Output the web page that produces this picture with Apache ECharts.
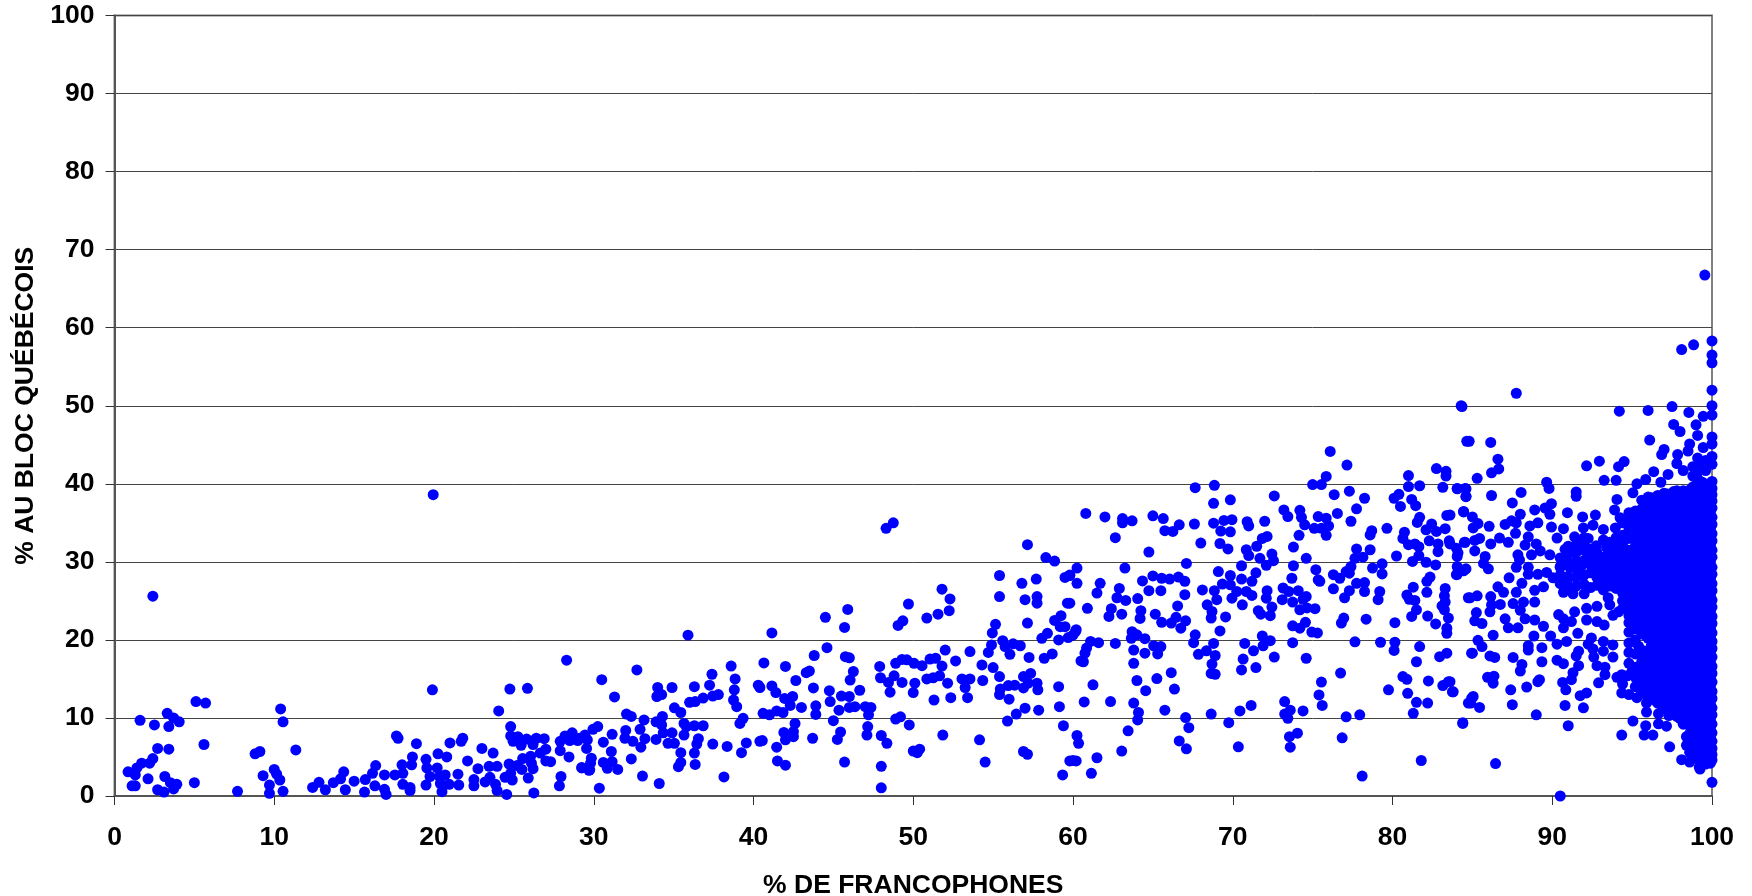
<!DOCTYPE html>
<html><head><meta charset="utf-8">
<style>html,body{margin:0;padding:0;background:#fff}#c{width:1752px;height:896px}</style>
<script src="https://cdn.jsdelivr.net/npm/echarts@6/dist/echarts.min.js"></script>
</head><body><div id="c"></div>
<script>
const xTitle = '% DE FRANCOPHONES';
const yTitle = '% AU BLOC QUÉBÉCOIS';
const pointsLow = [[2.4,25.6],[1.6,9.7],[2.5,9.1],[3.3,10.6],[3.7,10],[4.05,9.5],[3.4,8.9],[5.1,12.1],[5.7,11.9],[5.6,6.6],[2.7,6.1],[3.4,6],[2.4,4.8],[2.2,4.2],[1.7,4.2],[1.4,3.6],[0.85,3.1],[1.3,2.7],[2.1,2.2],[1.1,1.3],[1.3,1.3],[3.15,2.5],[3.5,1.7],[3.9,1.5],[3.7,0.9],[2.7,0.8],[3.1,0.5],[5,1.7],[7.7,0.6],[8.8,5.4],[9.1,5.7],[9.3,2.6],[10,3.4],[10.15,2.8],[10.35,2.05],[9.7,1.4],[9.7,0.35],[10.55,0.6],[10.4,11.15],[10.55,9.5],[11.35,5.9],[12.4,1.1],[12.8,1.75],[13.2,0.8],[13.7,1.7],[14.15,2.2],[14.35,3.1],[14.45,0.8],[15,1.9],[15.65,0.5],[15.7,2.1],[16.15,2.9],[16.35,3.9],[16.3,1.3],[16.9,2.7],[16.9,0.85],[17,0.2],[17.55,2.7],[18.05,2.9],[18,4],[18.05,1.5],[18.5,1.1],[18.5,0.7],[18.6,4],[18.65,5],[17.65,7.7],[17.75,7.4],[18.9,6.7],[19.5,4.7],[19.55,3.6],[19.5,1.4],[19.9,13.6],[19.95,38.6],[20.2,3.6],[19.75,2.5],[20.25,5.4],[20.8,5],[20.35,2.5],[20.7,2.7],[20.4,1.6],[20.95,1.5],[20.5,0.55],[21,6.8],[21.7,7],[21.8,7.4],[21.5,2.8],[21.55,1.4],[22.1,4.5],[22.5,2.1],[22.5,1.3],[22.75,3.5],[23,6.1],[23.7,5.5],[23.45,3.8],[23.95,3.8],[23.2,1.8],[23.5,2.4],[23.85,1.5],[23.95,0.7],[24.55,0.2],[24.05,10.9],[24.75,13.7],[25.85,13.8],[24.8,8.9],[24.8,7.7],[25.25,7.6],[24.95,7],[25.45,6.5],[25.8,7.3],[26.4,7.4],[26.2,6.6],[26.9,7.35],[27,6],[26.65,5.5],[25.55,4.8],[26.05,5.1],[26.1,4.2],[26.2,3.5],[24.7,4.1],[25.2,3.9],[25.5,3.4],[24.8,2.9],[24.45,2.4],[24.9,2.05],[25.9,2.3],[26.25,0.4],[27,4.5],[27.3,4.4],[28.3,17.4],[27.9,7],[28.2,7.7],[28.65,8.1],[27.9,5.8],[28.45,5],[27.95,2.5],[27.85,1.3],[28.5,7.1],[29,7.1],[29.45,7.8],[29.25,3.6],[29.55,6.1],[29.7,3.3],[29.1,7.4],[29.45,7.6],[29.6,7.2],[29.95,8.55],[29.85,4.85],[29.8,4.2],[29.75,3.35],[29.25,3.65]];
const pointsMid = [[30.25,8.9],[31.15,7.9],[30.6,6.9],[32,8.4],[32.9,8.55],[33.2,7.35],[31.95,7.4],[32.45,7],[32.95,6.25],[33.9,7.25],[31.1,5.7],[30.6,4.3],[31.15,4.4],[30.85,3.55],[31.5,3.4],[32.35,4.75],[33.05,2.55],[34.1,1.6],[30.35,1],[30.5,14.9],[31.3,12.7],[32.7,16.15],[32.05,10.5],[32.35,10.2],[33.15,9.75],[34.3,10.2],[33.9,9.5],[34.25,9.1],[34.35,8.1],[34.9,8.1],[34,13.9],[33.95,12.75],[34.25,13],[34.9,13.9],[35.05,11.3],[35.45,10.7],[35.65,9.3],[35.9,20.6],[36.3,14],[36,12],[36.35,12.1],[36.85,12.55],[37.25,14.2],[37.4,15.6],[37.45,12.8],[37.8,13],[36.3,9],[36.85,9],[35.8,8.9],[35.65,7.8],[36.55,7.35],[36.45,6.65],[34.65,6.75],[35.05,6.75],[35.45,5.55],[36.3,5.5],[35.45,4.3],[35.3,3.75],[36.35,4.05],[37.45,6.65],[38.35,6.35],[38.15,2.45],[38.6,16.65],[38.85,15],[38.8,13.6],[38.75,12.3],[38.95,11.45],[39.35,9.95],[39.15,9.3],[39.55,6.8],[39.25,5.55],[40.3,14.2],[40.4,13.9],[40.65,17.05],[41.15,20.9],[41.15,14.1],[41.4,13.25],[41.95,12.5],[42.45,12.75],[42.3,11.6],[40.6,10.6],[41,10.4],[41.45,10.9],[41.85,10.7],[42,16.6],[42.65,14.8],[43.3,15.8],[43.5,16],[43.8,18],[43.75,13.85],[43,11.35],[43.9,11.55],[43.9,10.45],[42.6,9.3],[41.9,8.15],[42.5,8.25],[42.5,7.6],[42,7.2],[40.4,7],[40.55,7.1],[41.45,6.25],[41.5,4.5],[42,3.95],[43.7,7.4],[44.5,22.9],[44.6,19],[44.75,13.5],[44.8,12.1],[45,9.65],[45.35,11],[45.45,8.2],[45.25,7.25],[45.7,4.35],[45.7,21.6],[45.9,23.9],[45.75,17.85],[46,17.7],[46.25,15.95],[46.05,14.85],[45.5,12.8],[46,12.75],[46,11.35],[46.35,11.45],[46.65,13.55],[47,11.45],[47.35,11.35],[47.2,10.4],[47.15,8.9],[47.1,7.8],[48,7.75],[48.35,6.75],[48,3.8],[48,1.05],[48.3,34.3],[48.75,35],[47.9,16.6],[47.95,15.15],[48.45,14.55],[48.8,15.4],[48.55,13.3],[49.3,14.55],[48.9,17],[49.3,17.5],[49.6,17.45],[50.05,17],[50.55,16.7],[51.05,17.55],[51.4,17.65],[51.8,16.65],[52,18.7],[52.65,17.3],[53.55,18.5],[54.3,16.8],[54.35,14.8],[53.05,15],[53.55,15],[53.25,13.9],[53.4,12.6],[52.35,12.6],[52.15,14.45],[50.85,15],[51.25,15.15],[51.65,15.4],[50.1,14.45],[50,13.25],[51.3,12.3],[48.9,9.85],[49.2,10.15],[49.75,9.1],[51.85,7.8],[54.15,7.2],[54.5,4.35],[50,5.75],[50.4,6],[50.25,5.55],[49.05,21.85],[49.35,22.45],[49.7,24.6],[50.85,22.8],[51.55,23.3],[52.25,23.75],[52.3,25.25],[51.8,26.5],[55.4,28.25],[55.4,25.55],[55.15,22],[54.95,20.9],[54.9,19.35],[55.6,19.9],[56.25,19.5],[56.7,19.25],[55.75,19.15],[56.05,18.15],[54.7,18.4],[57.25,17.75],[55,16.45],[55.4,15.3],[55.45,13.7],[55.4,13],[56,12.4],[55.95,14.15],[56.35,14.2],[56.9,13.85],[56.9,15.3],[57.35,15.7],[57.2,14.45],[57.75,14.45],[57.8,13.6],[57,11.25],[56.45,10.5],[55.9,9.6],[57.85,11],[56.9,5.7],[57.15,5.35],[56.8,27.25],[57.7,27.8],[57,25.15],[57.75,25.55],[57.75,24.7],[57.15,32.2],[57.15,22.15],[58.3,30.55],[58.85,30.1],[59.5,28],[59.8,28.25],[59.65,24.7],[59.25,23.1],[58.85,22.5],[59.2,21.7],[59.5,21.7],[58.05,20.2],[58.4,20.85],[59.1,20],[59.7,20.3],[58.2,17.65],[58.7,18.2],[59.1,14],[59.15,11.45],[59.4,9],[59.8,4.5],[59.35,2.7],[59.8,28.3],[59.8,24.7]];
const pointsHigh = [[60.25,29.2],[60.25,27.25],[60.5,17.3],[60.25,7.75],[60.35,6.75],[60.2,4.5],[60.15,21.05],[60.8,36.2],[62,35.75],[63.1,35.55],[63.1,35],[63.7,35.25],[62.65,33.1],[65,35.9],[65.65,35.55],[65.75,34],[66.25,33.9],[66.65,34.75],[67.6,34.85],[67.65,39.5],[68.85,39.8],[68.8,37.5],[69.85,37.95],[68.8,34.95],[69.45,35.3],[69.95,35.4],[69.25,33.95],[69.85,33.85],[68,32.4],[69.2,32.35],[69.7,31.65],[70.9,35.15],[71,34.6],[72,35.2],[72.6,38.45],[73.2,36.65],[73.45,35.8],[74.2,36.6],[74.3,35.7],[74.5,34.75],[75.35,35.8],[75.85,35.6],[75.1,34.3],[75.55,34.3],[76,34.6],[75.85,33.4],[74.15,33.4],[72.15,33.25],[71.85,33],[71.5,32],[70.85,31.55],[71,30.8],[73.8,31.9],[71.7,30.45],[72.45,31],[72.55,30.15],[72.1,29.55],[73.8,29.5],[70.55,29.5],[64.75,31.25],[67.1,29.8],[63.25,29.2],[61.7,27.25],[61.5,26],[62.9,26.6],[62.75,25.4],[63.3,25.05],[64.05,25.3],[64.35,27.55],[65,28.2],[65.55,27.9],[66.05,27.8],[66.6,28.05],[67,27.5],[64.75,26.3],[65.5,26.3],[67,25.8],[68.1,26.4],[68.85,26.3],[69.1,28.75],[69.85,28.25],[70.55,27.8],[71.45,28.6],[71.2,27.5],[69.35,27.15],[69.85,27.05],[70.25,26.2],[70.85,26.2],[71.2,25.7],[69.95,25.35],[69,25.15],[68.4,24.5],[70.6,24.5],[72.15,26.3],[72.1,25.35],[73.15,26.65],[73.5,26.2],[73.7,27.9],[73.1,25.15],[73.75,24.85],[74.1,26.3],[74.6,25.55],[74.4,25.2],[71.6,23.75],[71.75,23.3],[72.45,24.2],[72.35,23.1],[74.2,23.85],[74.65,24.1],[75.15,24],[68.7,23.65],[68.65,22.8],[69.55,22.95],[66.55,24.35],[65.15,23.3],[65.55,22.25],[66.15,22.15],[66.45,22.9],[67.05,22.45],[66.75,21.5],[64.25,23.75],[64.2,22.75],[63.05,23.3],[62.4,24],[62.25,23],[60.9,24.05],[60.2,21.3],[60,20.6],[63.7,21.05],[64,20.65],[63.65,20.2],[64.5,20.15],[61.1,19.8],[61.6,19.65],[62.65,19.55],[60.85,18.95],[60.75,18.3],[60.65,17.2],[63.8,18.7],[64.5,18.3],[65.05,19.25],[65.5,19.15],[65.3,18.2],[63.8,17],[66.15,15.8],[65.25,15.05],[64,14.8],[64.55,13.5],[66.35,13.7],[61.25,14.25],[60.7,12.05],[62.35,12.1],[63.8,11.9],[64.1,10.7],[64.05,9.75],[65.75,11],[67.05,10.05],[67.25,8.75],[68.65,10.5],[69.75,9.4],[70.45,10.9],[71.15,11.6],[63.45,8.35],[66.65,7.05],[67.1,6.05],[70.35,6.3],[63.05,5.75],[61.5,4.9],[60,4.55],[61.15,2.9],[67.65,20.65],[67.55,19.65],[68.8,19.55],[68.35,18.6],[67.85,18.15],[68.9,18],[68.7,16.9],[68.65,15.7],[68.9,15.6],[69.2,21.15],[70.75,19.55],[71.3,18.6],[70.65,17.55],[70.55,16.15],[71.45,16.45],[71.85,20.5],[72.35,19.9],[71.9,19.25],[72.6,17.8],[73.75,19.65],[73.75,21.8],[74.2,21.5],[74.55,22.25],[74.95,21],[75.3,20.9],[74.6,17.65],[75.55,14.6],[75.4,12.95],[75.6,11.6],[76.75,15.75],[73.25,12.1],[73.6,11],[73.25,10.5],[73.45,9.95],[74.4,10.9],[77.1,10.15],[77.95,10.4],[74.05,8.05],[73.55,7.6],[73.6,6.25],[76.85,7.45],[78.1,2.55],[81.8,4.55],[84.4,9.4],[81.3,10.6],[81.5,12],[82.2,11.9],[80.95,13.15],[79.75,13.6],[80.65,15.3],[80.9,14.95],[82.25,14.75],[83.15,14.15],[83.5,14.65],[83.75,13.35],[81.5,17.2],[81.7,19.15],[82.95,17.85],[83.4,18.3],[80.15,19.7],[80.1,18.65],[79.25,19.7],[77.65,19.75],[80.15,22.2],[78.35,22.65],[76.95,22.8],[76.8,22.15],[79.1,25.15],[79.2,26.2],[78.25,26.2],[78.25,27.35],[77.75,27.25],[77.3,26.3],[77,25.4],[76.3,26.55],[75.35,27.7],[75.45,27.5],[75.2,29],[76.3,28.35],[76.7,27.9],[77.1,28.75],[77.4,29.4],[77.3,28.55],[77.65,30.45],[78.15,30.6],[77.75,31.65],[78.6,31.55],[78.75,29.2],[79.35,29.75],[79.35,28.45],[74.6,30.45],[78.6,33.45],[78.7,34],[79.65,34.3],[77.4,35.2],[77.75,36.8],[76.55,36.2],[78.25,38.15],[77.3,39.05],[76.35,38.6],[75.85,40.95],[75,39.9],[75.55,39.9],[76.1,44.15],[77.15,42.4],[84.3,50],[84.65,45.45],[82.75,41.95],[83.35,41.6],[83.35,41],[81,41.05],[81,39.65],[81.7,39.75],[83.15,39.55],[84.05,39.35],[84.6,39.35],[80.4,38.65],[80.1,38.15],[80.5,37.1],[81.2,38],[81.45,37.2],[84.6,38.4],[83.4,35.95],[84.45,36.45],[81.7,35.7],[81.55,35.05],[82.45,34.85],[82.1,34.1],[82.75,33.9],[83.3,34.25],[80.75,33.8],[80.65,33],[81,32.2],[81.4,32.3],[81.65,31.95],[82.3,32.7],[82.85,32.3],[83.55,32.7],[84.5,32.5],[84,31.75],[82.85,31.3],[81.65,30.8],[82.1,29.95],[82.7,29.6],[81.25,30.05],[80.25,30.75],[84.05,30.7],[84.05,29.4],[84.6,29.1],[84,28.35],[82.35,28.05],[82.15,27.5],[81.3,26.75],[80.9,25.75],[81.05,25.2],[81.4,25.05],[82.15,26.1],[83.3,26.6],[83.25,25.65],[83.3,24.85],[83.1,24.35],[83.25,23.85],[83.5,22.8],[81.5,23.85],[81.2,23],[82.2,23.05],[82.7,22.05],[83.4,21.5],[83.4,20.85],[84.75,25.4],[84.95,18.3],[84.95,12.5],[84.75,11.9]];
const pointsEdge = [[99.55,66.75],[100,58.3],[98.85,57.8],[98.1,57.2],[100,56.5],[100,55.5],[100,52],[87.75,51.6],[84.35,49.9],[94.2,49.3],[96,49.4],[97.5,49.9],[98.55,49.15],[100,50],[100,48.8],[99.45,48.65],[99,47.55],[97.6,47.6],[98,46.7],[96.1,45.6],[99.1,46.2],[100,46],[100,45.1],[99.45,44.65],[98.6,45.1],[98.5,44.2],[97,44.4],[96.85,43.75],[97.85,43.75],[99.1,43.3],[100,43.5],[100,42.5],[84.8,45.45],[86.15,45.3],[86.6,43.15],[86.65,41.9],[86.2,41.4],[85.3,40.7],[92.15,42.3],[92.95,42.9],[94.15,42.2],[94.5,42.85],[96.35,41.55],[97.25,41.2],[96.8,40.2],[97.8,42.6],[98.2,41.7],[99.05,41.2],[100,40.3],[100,39.4],[93.25,40.45],[94,40.45],[95.3,40],[95.85,40.55],[89.65,40.2],[89.8,39.4],[91.5,38.95],[91.5,38.4],[88.05,38.9],[87.5,37.55],[86.2,38.5],[84.05,39.4],[84.55,39.4],[84.6,38.35],[94.05,38],[95.05,38.85],[84.45,36.4],[85,35.75],[85.35,34.9],[85.05,34.35],[86.05,34.55],[83.6,36],[87.05,34.8],[87.45,35.25],[88,36.1],[87.75,35],[87.7,33.65],[88.9,36.65],[89.95,37.45],[89.55,36.9],[89.85,36.1],[90.95,36.3],[91.9,35.75],[92.7,36],[93.9,36.65],[94.25,35.65],[88.6,34.6],[89.1,35],[89.95,34.45],[90.7,34.25],[91.95,34.35],[92.55,34.7],[93.2,34.15],[93.95,34.35],[86.7,33.05],[87.25,32.5],[86.15,32.3],[85.45,33],[85.15,32.75],[84.55,32.5],[88.5,33.2],[88.3,32.15],[89,32.3],[90.3,33.05],[88.7,30.9],[89.25,31.4],[89.85,30.9],[87.85,30.9],[87.95,30.25],[90.8,31.6],[91.4,33.2],[91.65,32.5],[92.25,33],[92.75,32.05],[93.4,31.85],[91.5,31.4],[92.35,31.15],[92.75,30.45],[84.1,31.15],[83.6,32.3],[85.8,30.7],[85.15,31.4],[84.45,28.85],[84.05,28.4],[86,29.1],[85.7,29.8],[87.75,29.3],[88.5,29.3],[88.5,28.4],[89.1,28.4],[89.65,28.65],[90.5,29.3],[91.1,29.3],[91.85,29.55],[91.85,28.4],[91,28.15],[90.05,27.95],[89.45,26.8],[88.9,26.35],[88.1,27.25],[87.3,27.95],[86.6,26.8],[86.95,26.1],[87.75,26.1],[84.85,25.4],[85.3,25.65],[86.15,25.55],[86.2,24.5],[86.75,24.55],[87.55,24.65],[88.2,24.85],[88.9,24.85],[88,23.8],[86.1,23.6],[85.25,23.5],[85.15,22.45],[85.6,22.1],[87.05,22.7],[87.25,21.55],[87.85,21.55],[88.3,22.7],[88.9,22.55],[89.45,21.75],[88.85,20.5],[89.9,20.5],[90.7,26.1],[91.3,25.9],[90.4,23.25],[90.7,22.7],[90.7,21.55],[91.2,22.35],[91.4,23.6],[92.15,24.05],[92.8,24.3],[93.5,25.4],[93.6,24.5],[92.15,22.55],[92.8,22.35],[93.25,21.9],[93.8,23.15],[94.15,23.6],[91.6,20.85],[92.45,20.25],[93.2,19.8],[93.8,19.35],[92.25,19.45],[92.55,18.85],[93.2,18.55],[93.8,17.8],[92.6,17.8],[91.65,18.55],[91.5,17.95],[91.65,16.7],[91.3,15.8],[91.2,14.9],[92.8,16.7],[93.3,16.5],[93.3,15.55],[94.05,15.2],[94.35,15.55],[94.4,14.35],[92.9,14.5],[90.65,14.55],[90.85,13.6],[92.15,13.2],[91.75,12.85],[90.8,11.6],[91.95,11.3],[91,9],[94.35,13.2],[94.8,13],[95.3,12.6],[95.9,11.9],[95.9,10.75],[96.65,10.55],[97.3,10.3],[96.65,9.25],[97.15,8.95],[95.85,9],[95.75,7.8],[96.3,7.8],[95.05,9.6],[94.35,7.8],[97.35,6.3],[98.1,4.65],[98.6,4.35],[99.25,3.45],[100,1.75],[90.5,0],[86.45,4.15],[89,10.4],[84.4,9.3],[88.4,13.95],[89.1,14.65],[89.2,14.9],[87.5,11.7],[87.4,13.6],[86.35,15.35],[86.3,14.45],[85.95,15.2],[85.05,12.75],[84.9,11.9],[85.45,11.35],[83.8,13.35],[83.6,14.65],[86.3,20.6],[85.35,19.95],[85.6,19.15],[85,18.3],[86.1,17.95],[86.4,17.75],[87.55,17.75],[88.1,16.85],[88,16],[88.5,19.25],[88.5,18.7],[89.35,19],[89.35,17.2],[90.3,17.4],[90.7,16.95],[90.3,19.45],[90.9,19.8],[95.4,19.2],[95,16],[94.7,15.4],[96.1,18.4],[95.7,18.6]];
const denseColumns = [
[100,[4.6,5.3,6.1,7,8.1,9.2,10.4,11.3,12.5,13.4,14.6,15.7,16.6,17.8,18.9,19.8,20.9,22.1,23,24.2,25.1,26.3,27.2,28.4,29.3,30.6,31.5,32.7,33.6,34.8,35.7,36.9,37.8,38.6]],
[99.9,[4.2,5.7,6.5,7.5,8.6,9.8,10.9,11.9,13,14,15.1,16.2,17.2,18.4,19.3,20.4,21.5,22.6,23.6,24.7,25.7,26.8,27.8,28.9,30,31,32.1,33.1,34.2,35.2,36.3,37.4,38.2,39]],
[99.6,[4.1,5,5.9,6.8,7.7,8.9,9.8,11,11.9,13,14.1,15.2,16.1,17.3,18.3,19.4,20.4,21.5,22.6,23.6,24.7,25.7,26.8,27.8,28.9,30,31.1,32.1,33.2,34.2,35.3,36.4,37.4,38.5,39.3,41.7,43]],
[99.4,[4.4,5.2,6.1,7.1,8.2,9.1,10.2,11.3,12.4,13.5,14.5,15.6,16.7,17.8,18.8,19.9,20.9,22,23.1,24.1,25.2,26.3,27.3,28.4,29.4,30.5,31.6,32.6,33.7,34.7,35.8,36.9,37.9,38.9,40.2]],
[99.2,[3.7,4.6,5.5,6.4,7.5,8.5,9.6,10.6,11.7,12.8,13.8,14.9,15.9,17,18,19.1,20.2,21.2,22.3,23.3,24.4,25.4,26.5,27.6,28.6,29.7,30.7,31.8,32.9,33.9,35,36,37.1,38.1,39,40.4,41.8,42.6]],
[99,[4.9,5.8,6.9,8,9.1,10.2,11.2,12.3,13.3,14.4,15.5,16.5,17.6,18.6,19.7,20.8,21.8,22.9,23.9,25,26,27.1,28.2,29.2,30.3,31.3,32.4,33.5,34.5,35.6,36.6,37.7,38.8,39.8]],
[98.8,[5.2,6.2,7.3,8.6,10.1,11.2,12.2,13.3,14.3,15.4,16.5,17.5,18.6,19.6,20.7,21.8,22.8,23.9,24.9,26,27.1,28.1,29.2,30.2,31.3,32.4,33.4,34.5,35.5,36.6,37.7,38.7,39.6,41,42.2]],
[98.6,[5.6,6.8,8,9,10.3,11.7,12.8,13.8,14.9,15.9,17,18.1,19.1,20.2,21.2,22.3,23.4,24.4,25.5,26.5,27.6,28.7,29.7,30.8,31.8,32.9,34,35,36.1,37.1,38.2,39.2]],
[98.4,[6.5,7.6,9.4,10.7,11.7,12.7,13.8,14.9,15.9,17,18,19.1,20.2,21.2,22.3,23.3,24.4,25.5,26.5,27.6,28.6,29.7,30.8,31.8,32.9,33.9,35,36.1,37.1,38.2,39]],
[98.2,[9.2,10.4,11.5,12.6,13.7,14.8,15.8,16.9,17.9,19,20.1,21.1,22.2,23.2,24.3,25.4,26.4,27.5,28.5,29.6,30.7,31.7,32.8,33.8,34.9,36,37,38.1,39.1]],
[98,[9.9,11,12.2,13.2,14.3,15.4,16.4,17.5,18.5,19.6,20.7,21.7,22.8,23.8,24.9,26,27,28.1,29.1,30.2,31.3,32.3,33.4,34.4,35.5,36.6,37.6,38.7]],
[97.8,[10.2,11.5,12.6,13.7,14.7,15.8,16.9,17.9,19,20,21.1,22.2,23.2,24.3,25.3,26.4,27.5,28.5,29.6,30.6,31.7,32.8,33.8,34.9,35.9,37,38.1,39.1]],
[97.6,[10.5,11.7,12.8,13.8,14.9,15.9,17,18,19.1,20.2,21.2,22.3,23.3,24.4,25.5,26.5,27.6,28.6,29.7,30.8,31.8,32.9,33.9,35,36,37.1,38.2,39]],
[97.4,[11.2,12.3,13.3,14.4,15.4,16.5,17.6,18.6,19.7,20.7,21.8,22.9,23.9,25,26,27.1,28.2,29.2,30.3,31.3,32.4,33.5,34.5,35.6,36.6,37.7,38.7]],
[97.2,[11,12.2,13.3,14.3,15.4,16.5,17.5,18.6,19.6,20.7,21.8,22.8,23.9,24.9,26,27,28.1,29.2,30.2,31.3,32.3,33.4,34.5,35.5,36.6,37.6,38.7]],
[97,[11.3,12.5,13.6,14.6,15.7,16.7,17.8,18.9,19.9,21,22,23.1,24.2,25.2,26.3,27.3,28.4,29.5,30.5,31.6,32.6,33.7,34.8,35.8,36.9,37.9,38.8]],
[96.8,[11.7,12.8,13.8,14.9,16,17,18.1,19.1,20.2,21.3,22.3,23.4,24.4,25.5,26.6,27.6,28.7,29.7,30.8,31.9,32.9,34,35,36.1,37.2,38]],
[96.6,[11.9,13,14.1,15.2,16.2,17.3,18.4,19.4,20.5,21.5,22.6,23.7,24.7,25.8,26.8,27.9,29,30,31.1,32.1,33.2,34.3,35.3,36.4,37.4,38.5]],
[96.4,[12.3,13.4,14.4,15.5,16.5,17.6,18.7,19.7,20.8,21.8,22.9,24,25,26.1,27.1,28.2,29.3,30.3,31.4,32.4,33.5,34.6,35.6,36.7,37.6]],
[96.2,[12.8,13.9,15,16,17.1,18.2,19.2,20.3,21.3,22.4,23.5,24.5,25.6,26.6,27.7,28.8,29.8,30.9,31.9,33,34.1,35.1,36.2,37.2,38.2]],
[96,[13.6,14.9,16.1,17.2,20.2,21.3,22.4,23.5,24.6,25.6,26.7,27.8,28.8,29.9,30.9,32,33,34.1,35.2,36.2,37.2,38.3]],
[95.8,[13.1,14.3,15.4,16.6,17.8,20.6,21.7,22.8,23.8,24.9,26,27,28.1,29.1,30.2,31.3,32.3,33.4,34.4,35.5,36.5,37.5]],
[95.6,[13.2,14.5,15.8,17.2,20.8,21.9,23,24,25.1,26.2,27.2,28.3,29.3,30.4,31.5,32.5,33.6,34.6,35.7,36.8,37.9]],
[95.2,[14,15.2,16.5,18.2,20,21.4,22.5,23.6,24.6,25.7,26.8,27.8,28.9,29.9,31,32,33.1,34.2,35.4,36.5]],
[94.8,[17,18.4,19.6,21,22.2,23.1,24.3,25.2,26.4,27.4,28.4,29.4,30.6,31.5,33,34.2,35.2,36.3]],
[94.4,[24,25,26,27,28.1,29.1,30.1,31.2,32.3,33.4,35]],
[94,[26.6,27.6,28.7,29.7,30.8,32,33.1]],
[93.6,[26.9,28,29,30,31,32.5]],
[93.2,[26.4,27.5,28.6,29.7,30.6,32.8]],
[92.8,[27,28,29.1,30.1,31.2]],
[92.4,[26.7,28.6,29.6,30.7,31.6]],
[92,[25.9,27.1,28.3,30.2,31.5,32.2,33.1]],
[91.5,[26.9,28,29.1,30.1,31.2,32.2]],
[91,[26.8,27.9,29.9,31,32]],
[90.5,[27.2,28.3,29.4,30.5]]
];
const data = pointsLow.concat(pointsMid, pointsHigh, pointsEdge);
denseColumns.forEach(function (c) { c[1].forEach(function (y) { data.push([c[0], y]); }); });

const axisFont = { color: '#000', fontFamily: 'Liberation Sans', fontWeight: 'bold', fontSize: 26.5 };
const nameFont = { color: '#000', fontFamily: 'Liberation Sans', fontWeight: 'bold', fontSize: 26.5 };
const chart = echarts.init(document.getElementById('c'), null, { renderer: 'canvas' });
chart.setOption({
  animation: false,
  backgroundColor: '#fff',
  grid: { left: 114.5, right: 40, top: 15.5, bottom: 100, outerBoundsMode: 'none', show: true, borderColor: '#808080', borderWidth: 2, backgroundColor: '#fff' },
  xAxis: {
    type: 'value', min: 0, max: 100, interval: 10,
    name: xTitle, nameLocation: 'middle', nameGap: 76, nameTextStyle: nameFont,
    axisLine: { show: true, onZero: false, lineStyle: { color: '#555', width: 2 } },
    axisTick: { show: true, inside: false, length: 9, lineStyle: { color: '#333', width: 1 } },
    axisLabel: Object.assign({ margin: 28, showMinLabel: true, showMaxLabel: true, hideOverlap: false }, axisFont),
    splitLine: { show: false }
  },
  yAxis: {
    type: 'value', min: 0, max: 100, interval: 10,
    name: yTitle, nameLocation: 'middle', nameGap: 75, nameTextStyle: nameFont,
    axisLine: { show: true, onZero: false, lineStyle: { color: '#555', width: 2 } },
    axisTick: { show: true, inside: false, length: 9, lineStyle: { color: '#333', width: 1 } },
    axisLabel: Object.assign({ margin: 20, padding: [4, 0, 0, 0] }, axisFont),
    splitLine: { show: true, lineStyle: { color: '#444', width: 1, type: 'solid' } }
  },
  series: [{
    type: 'scatter', data: data, symbol: 'circle', symbolSize: 11, clip: false,
    itemStyle: { color: '#0000FF', opacity: 1 }, large: false, silent: true
  }]
});
</script></body></html>
